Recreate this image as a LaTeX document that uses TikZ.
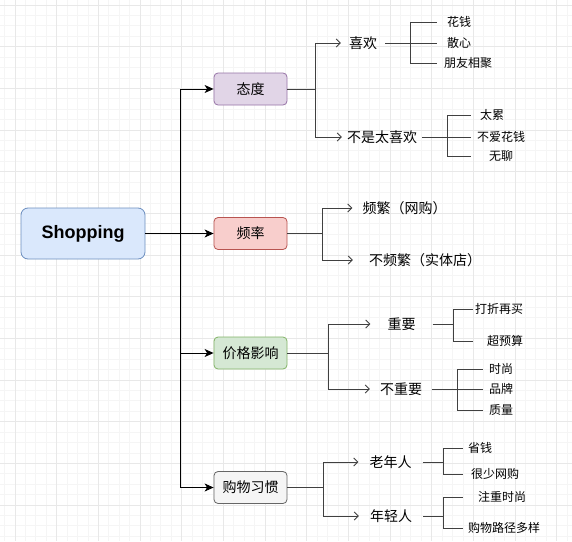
\documentclass[tikz,border=0pt]{standalone}
\usepackage{fontspec}
\setmainfont{Liberation Sans}
\newfontfamily\cjk{Noto Sans CJK SC}
\definecolor{shopfill}{HTML}{DAE8FC}
\definecolor{shopline}{HTML}{6C8EBF}
\definecolor{purfill}{HTML}{E1D5E7}
\definecolor{purline}{HTML}{9673A6}
\definecolor{redfill}{HTML}{F8CECC}
\definecolor{redline}{HTML}{B85450}
\definecolor{grnfill}{HTML}{D5E8D4}
\definecolor{grnline}{HTML}{82B366}
\definecolor{gryfill}{HTML}{F5F5F5}
\definecolor{gryline}{HTML}{666666}
\usetikzlibrary{arrows.meta,positioning}

\begin{document}
\begin{tikzpicture}[
  x=1pt,y=-1pt,
  gridminor/.style={draw=black!4,line width=0.8pt},
  gridmajor/.style={draw=black!9,line width=0.8pt},
  topbox/.style={draw,rounded corners=4pt,minimum width=73pt,minimum height=32pt,
                 inner sep=0pt,line width=0.8pt,font=\cjk\fontsize{14}{16}\selectfont},
  sublab/.style={inner ysep=2pt,font=\cjk\fontsize{14}{16}\selectfont},
  leaf/.style={inner ysep=2pt,font=\cjk\fontsize{12}{14}\selectfont},
  arrmain/.style={-{Stealth[length=9pt,width=8pt,inset=2.5pt]},line width=0.9pt,black},
  arrsub/.style={-{Straight Barb[length=4pt,width=8pt]},line width=0.9pt,black!75},
  twig/.style={line width=0.9pt,black!75},
]
  % Background grid
  \fill[white] (0,0) rectangle (572,541);
  \useasboundingbox (0,0) rectangle (572,541);
  \foreach \k in {0,...,54} \draw[gridminor] ({4.6+10.4167*\k},0) -- ({4.6+10.4167*\k},541);
  \foreach \k in {0,...,51} \draw[gridminor] (0,{5+10.4167*\k}) -- (572,{5+10.4167*\k});
  \foreach \k in {0,...,13} \draw[gridmajor] ({15+41.667*\k},0) -- ({15+41.667*\k},541);
  \foreach \k in {0,...,12} \draw[gridmajor] (0,{5+41.667*\k}) -- (572,{5+41.667*\k});

  % Root
  \node[draw=shopline,fill=shopfill,rounded corners=7pt,minimum width=124pt,minimum height=51pt,
        line width=0.8pt,font=\bfseries\fontsize{18}{20}\selectfont] (shop) at (83,233.5) {Shopping};

  % Topics
  \node[topbox,fill=purfill,draw=purline] (attitude) at (250.5,89) {态度};
  \node[topbox,fill=redfill,draw=redline] (freq) at (250.5,233.5) {频率};
  \node[topbox,fill=grnfill,draw=grnline] (price) at (250.5,353) {价格影响};
  \node[topbox,fill=gryfill,draw=gryline] (habit) at (250.5,487.5) {购物习惯};

  % Junctions
  \coordinate (trunk) at (180,233.5);
  \coordinate (attj) at (315,89);
  \coordinate (freqj) at (322,233.5);
  \coordinate (pricej) at (328,353);
  \coordinate (habitj) at (323,487.5);

  % Second level
  \node[sublab,inner xsep=8pt] (like) at (363,43) {喜欢};
  \node[sublab,inner xsep=5pt] (dislike) at (382,137) {不是太喜欢};
  \node[sublab,inner xsep=10pt] (often) at (404.5,208) {频繁（网购）};
  \node[sublab,inner xsep=16pt] (seldom) at (425,260) {不频繁（实体店）};
  \node[sublab,inner xsep=17pt] (major) at (401.5,324) {重要};
  \node[sublab,inner xsep=10pt] (minor) at (401,389) {不重要};
  \node[sublab,inner xsep=11pt] (elder) at (390.5,462) {老年人};
  \node[sublab,inner xsep=11pt] (youth) at (391,516) {年轻人};

  \coordinate (likej) at (410,43);
  \coordinate (dislikej) at (447,137);
  \coordinate (majorj) at (453,324);
  \coordinate (minorj) at (457,389);
  \coordinate (elderj) at (443,462);
  \coordinate (youthj) at (443,516);

  % Leaves
  \node[leaf,inner xsep=10pt] (spend) at (459,22) {花钱};
  \node[leaf,inner xsep=10pt] (relax) at (459,43) {散心};
  \node[leaf,inner xsep=7pt] (friends) at (468,63) {朋友相聚};
  \node[leaf,inner xsep=9pt] (tired) at (492,115) {太累};
  \node[leaf,inner xsep=6pt] (nospend) at (501,137) {不爱花钱};
  \node[leaf,inner xsep=18pt] (boring) at (501,156) {无聊};
  \node[leaf,inner xsep=2pt] (discount) at (499,309) {打折再买};
  \node[leaf,inner xsep=14pt] (budget) at (505,341) {超预算};
  \node[leaf,inner xsep=6pt] (fashion) at (501,369) {时尚};
  \node[leaf,inner xsep=6pt] (brand) at (501,389) {品牌};
  \node[leaf,inner xsep=6pt] (quality) at (501,410) {质量};
  \node[leaf,inner xsep=5pt] (save) at (480,448) {省钱};
  \node[leaf,inner xsep=8pt] (rarely) at (495,474) {很少网购};
  \node[leaf,inner xsep=15pt] (trendy) at (502,497) {注重时尚};
  \node[leaf,inner xsep=5pt] (various) at (504,528) {购物路径多样};

  % Main arrows
  \draw[arrmain] (shop) -- (freq);
  \draw[arrmain] (trunk) |- (attitude);
  \draw[arrmain] (trunk) |- (price);
  \draw[arrmain] (trunk) |- (habit);

  % Sub arrows
  \draw[twig] (attitude) -- (attj);
  \draw[arrsub] (attj) |- (like);
  \draw[arrsub] (attj) |- (dislike);
  \draw[twig] (freq) -- (freqj);
  \draw[arrsub] (freqj) |- (often);
  \draw[arrsub] (freqj) |- (seldom);
  \draw[twig] (price) -- (pricej);
  \draw[arrsub] (pricej) |- (major);
  \draw[arrsub] (pricej) |- (minor);
  \draw[twig] (habit) -- (habitj);
  \draw[arrsub] (habitj) |- (elder);
  \draw[arrsub] (habitj) |- (youth);

  % Leaf lines
  \draw[twig] (like) -- (likej);
  \foreach \t in {spend,relax,friends} \draw[twig] (likej) |- (\t);
  \draw[twig] (dislike) -- (dislikej);
  \foreach \t in {tired,nospend,boring} \draw[twig] (dislikej) |- (\t);
  \draw[twig] (major) -- (majorj);
  \foreach \t in {discount,budget} \draw[twig] (majorj) |- (\t);
  \draw[twig] (minor) -- (minorj);
  \foreach \t in {fashion,brand,quality} \draw[twig] (minorj) |- (\t);
  \draw[twig] (elder) -- (elderj);
  \foreach \t in {save,rarely} \draw[twig] (elderj) |- (\t);
  \draw[twig] (youth) -- (youthj);
  \foreach \t in {trendy,various} \draw[twig] (youthj) |- (\t);
\end{tikzpicture}
\end{document}
